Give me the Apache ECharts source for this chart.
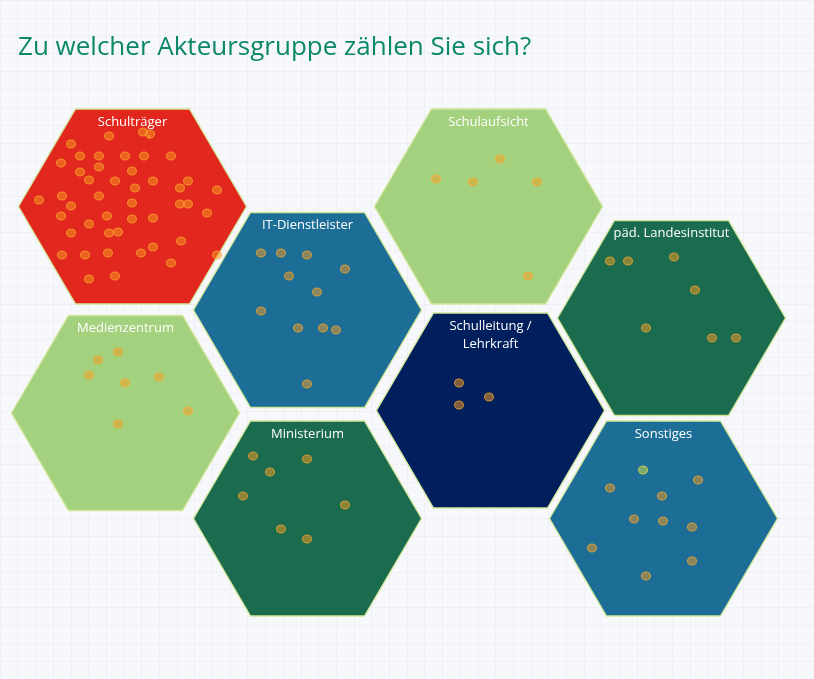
<!DOCTYPE html>
<html>
<head>
<meta charset="utf-8">
<script src="https://cdn.jsdelivr.net/npm/echarts@6/dist/echarts.min.js"></script>
<style>
html,body{margin:0;padding:0;background:#f7f8fc;}
#chart{width:814px;height:679px;}
</style>
</head>
<body>
<div id="chart"></div>
<script>
// Categories (groups)
const categories = ['Schulträger','IT-Dienstleister','Schulaufsicht','päd. Landesinstitut','Medienzentrum','Ministerium','Schulleitung /\nLehrkraft','Sonstiges'];
// Responses (dots) per group
const dotsSchultraeger = [[109,136],[71,144],[80,156],[99,156],[125,156],[144,156],[171,156],[61,163],[99,167],[80,172],[132,171],[89,180],[115,181],[153,181],[188,181],[180,188],[135,188],[217,190],[62,196],[99,196],[39,200],[71,206],[132,203],[180,204],[188,204],[207,213],[61,216],[107,216],[132,219],[153,218],[89,224],[71,233],[109,233],[118,232],[181,241],[153,247],[62,255],[85,255],[108,253],[141,253],[217,255],[171,263],[89,279],[115,276],[143,132],[150,134]];
const dotsIT = [[261,253],[281,253],[307,255],[345,269],[289,276],[317,292],[261,311],[298,328],[323,328],[336,330],[307,384]];
const dotsSchulaufsicht = [[500,159],[436,179],[473,182],[537,182],[528,276]];
const dotsLandesinstitut = [[610,261],[628,261],[674,257],[695,290],[646,328],[712,338],[736,338]];
const dotsMedienzentrum = [[118,352],[98,360],[89,375],[125,383],[159,377],[188,411],[118,424]];
const dotsMinisterium = [[253,456],[307,459],[270,472],[243,496],[345,505],[281,529],[307,539]];
const dotsSchulleitung = [[459,383],[489,397],[459,405]];
const dotsSonstiges = [[698,480],[610,488],[662,496],[634,519],[663,521],[692,527],[592,548],[692,561],[646,576]];
const dotsHighlighted = [[643,470]];
const dotsSmall = [[149,137]];

// Layout (hexagon centres) and styles
const hexCenters = [[132.5,206.5],[307.5,310],[488.5,206.5],[671.5,318],[125.5,413],[307.5,518.5],[490.5,410.5],[663.5,518.5]];
const hexColors = ['#e2271e','#1d6e96','#a3d17e','#1b6b4f','#a3d17e','#1b6b4f','#001f5c','#1d6e96'];

const allDots = [].concat(dotsSchultraeger,dotsIT,dotsSchulaufsicht,dotsLandesinstitut,dotsMedienzentrum,dotsMinisterium,dotsSchulleitung,dotsSonstiges);

const HX = 114, HY = 97.5;
const chart = echarts.init(document.getElementById('chart'), null, {renderer:'canvas'});
const hexData = categories.map((c,i)=>[hexCenters[i][0],hexCenters[i][1],c,hexColors[i]]);

chart.setOption({
  backgroundColor:'#f7f8fc',
  animation:false,
  title:{
    text:'Zu welcher Akteursgruppe zählen Sie sich?',
    left:13, top:30,
    textStyle:{color:'#0d8769',fontSize:26,fontWeight:'normal',fontFamily:'Open Sans'}
  },
  grid:[
    {left:0,right:0,top:0,bottom:0},
    {left:-6,top:-3,width:828,height:684}
  ],
  xAxis:[
    {gridIndex:0,type:'value',min:0,max:814,show:false},
    {gridIndex:1,type:'value',min:0,max:828,interval:18,axisLine:{show:false},axisTick:{show:false},axisLabel:{show:false},
      splitLine:{show:true,lineStyle:{color:'#eff0f6',width:1}}}
  ],
  yAxis:[
    {gridIndex:0,type:'value',min:0,max:679,inverse:true,show:false},
    {gridIndex:1,type:'value',min:0,max:684,interval:18,inverse:true,axisLine:{show:false},axisTick:{show:false},axisLabel:{show:false},
      splitLine:{show:true,lineStyle:{color:'#eff0f6',width:1}}}
  ],
  series:[
    {
      type:'custom',
      xAxisIndex:0,yAxisIndex:0,
      data:hexData,
      z:2,
      renderItem:function(params,api){
        const c = api.coord([api.value(0),api.value(1)]);
        const s = api.size([HX,HY]);
        const rx = s[0], ry = s[1];
        const pts = [
          [c[0]-rx,c[1]],[c[0]-rx/2,c[1]-ry],[c[0]+rx/2,c[1]-ry],
          [c[0]+rx,c[1]],[c[0]+rx/2,c[1]+ry],[c[0]-rx/2,c[1]+ry]
        ];
        const name = hexData[params.dataIndex][2];
        const color = hexData[params.dataIndex][3];
        return {
          type:'group',
          children:[
            {type:'polygon',shape:{points:pts},style:{fill:color,stroke:'#d2e79a',lineWidth:1.3}},
            {type:'text',style:{text:name,x:c[0],y:c[1]-ry+4,fill:'#ffffff',
              font:'13px "Open Sans"',align:'center',verticalAlign:'top',lineHeight:18}}
          ]
        };
      }
    },
    {
      type:'scatter',xAxisIndex:0,yAxisIndex:0,z:5,
      data:allDots,symbol:'circle',symbolSize:[9,8],
      itemStyle:{color:'rgba(246,156,34,0.65)',borderColor:'rgba(252,172,50,0.9)',borderWidth:1}
    },
    {
      type:'scatter',xAxisIndex:0,yAxisIndex:0,z:5,
      data:dotsHighlighted,symbol:'circle',symbolSize:[9,8],
      itemStyle:{color:'rgba(228,232,60,0.6)',borderColor:'rgba(230,230,70,0.9)',borderWidth:1}
    },
    {
      type:'scatter',xAxisIndex:0,yAxisIndex:0,z:5,
      data:dotsSmall,symbol:'circle',symbolSize:4,
      itemStyle:{color:'rgba(246,156,34,0.85)'}
    }
  ]
});
</script>
</body>
</html>
